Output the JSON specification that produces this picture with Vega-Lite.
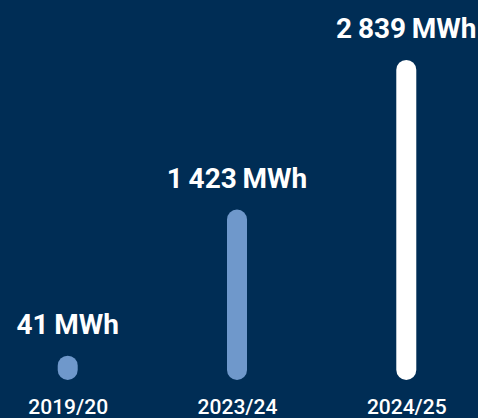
{
  "$schema": "https://vega.github.io/schema/vega-lite/v6.json",
  "width": 474,
  "height": 370,
  "autosize": {"type": "none"},
  "padding": {"left": 0, "top": 0, "right": 4, "bottom": 48},
  "background": "#002d55",
  "config": {"view": {"stroke": null}, "font": "Roboto"},
  "data": {
    "values": [
      {"period": "2019/20", "mwh": 41, "label": "41\u2009MWh"},
      {"period": "2023/24", "mwh": 1423, "label": "1\u2009423\u2009MWh"},
      {"period": "2024/25", "mwh": 2839, "label": "2\u2009839\u2009MWh"}
    ]
  },
  "encoding": {
    "x": {
      "field": "period",
      "type": "ordinal",
      "scale": {"type": "point", "padding": 0.4},
      "axis": {
        "title": null,
        "domain": false,
        "ticks": false,
        "grid": false,
        "labelAngle": 0,
        "labelColor": "#ffffff",
        "labelFont": "Roboto",
        "labelFontSize": 21,
        "labelFontWeight": 500,
        "labelBaseline": "alphabetic",
        "labelPadding": 43
      }
    }
  },
  "layer": [
    {
      "mark": {"type": "rule", "strokeWidth": 20, "strokeCap": "round"},
      "encoding": {
        "y": {"field": "mwh", "type": "quantitative", "scale": {"domain": [0, 3467]}, "axis": null},
        "y2": {"datum": 0},
        "color": {
          "condition": {"test": "datum.period === '2024/25'", "value": "#ffffff"},
          "value": "#6f98cb"
        }
      }
    },
    {
      "mark": {"type": "text", "baseline": "alphabetic", "dy": -32, "font": "Roboto", "fontWeight": "bold", "fontSize": 28, "fill": "#ffffff"},
      "encoding": {
        "y": {"field": "mwh", "type": "quantitative"},
        "text": {"field": "label"}
      }
    }
  ]
}
